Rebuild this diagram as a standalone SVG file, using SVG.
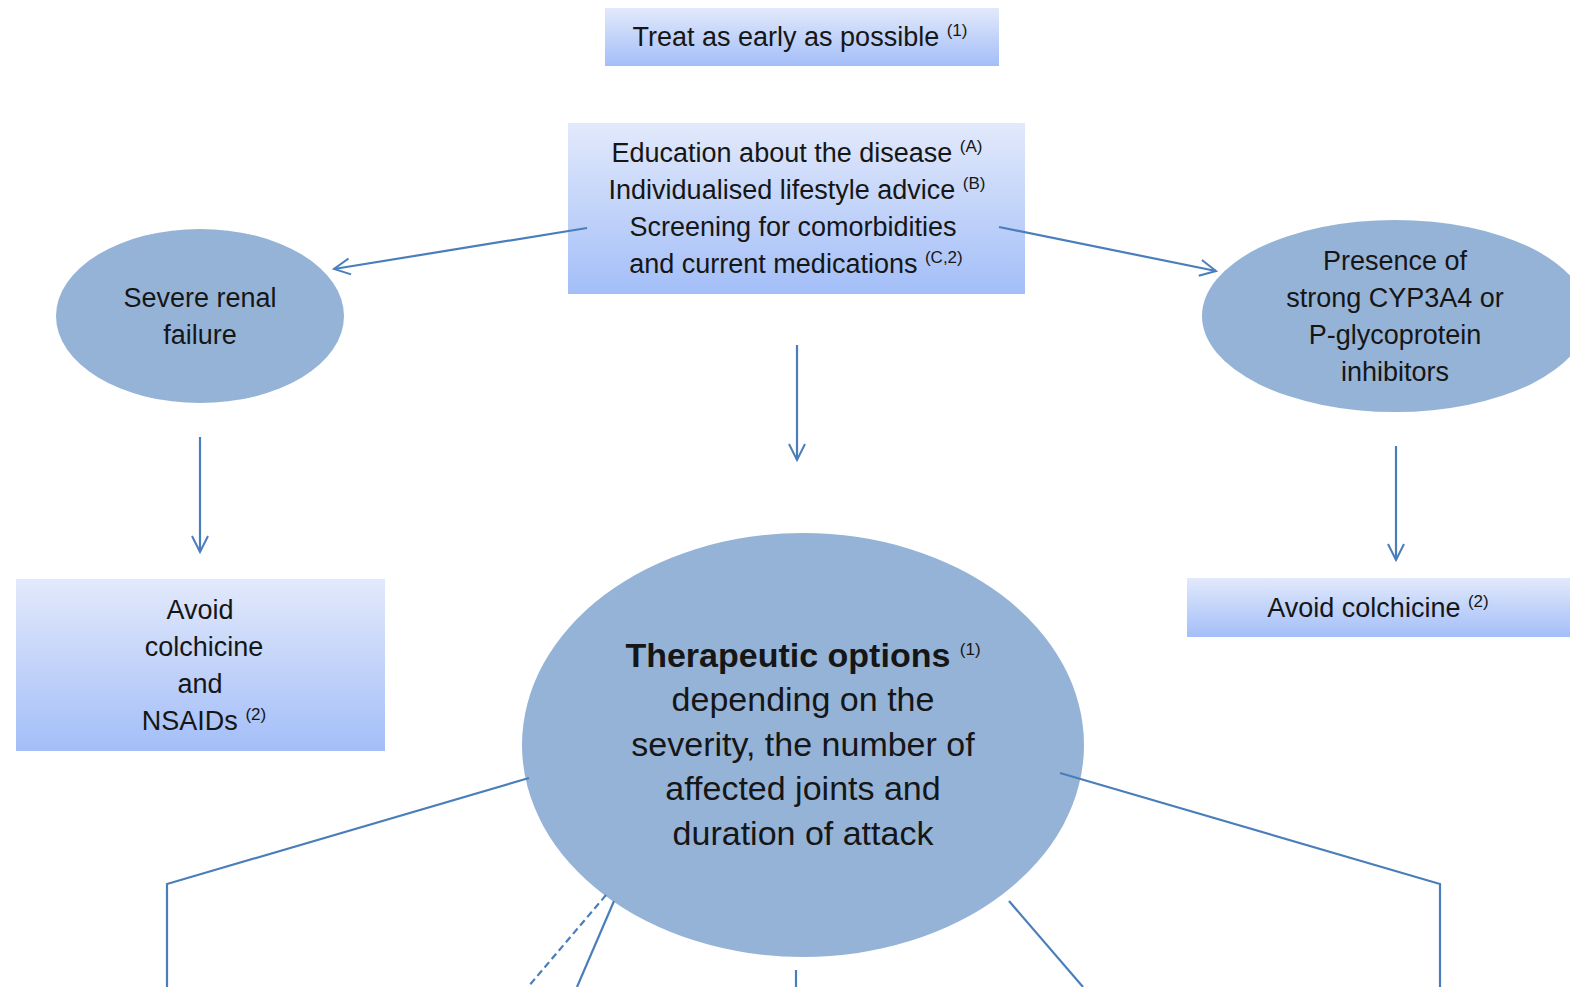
<svg xmlns="http://www.w3.org/2000/svg" width="1570" height="987" viewBox="0 0 1570 987">
<defs>
<linearGradient id="g" x1="0" y1="0" x2="0" y2="1">
<stop offset="0" stop-color="#e2e9fb"/>
<stop offset="1" stop-color="#a3bef8"/>
</linearGradient>
<marker id="ah" viewBox="0 0 20 20" refX="18" refY="10" markerWidth="20" markerHeight="20" markerUnits="userSpaceOnUse" orient="auto">
<path d="M2,2 L18,10 L2,18" fill="none" stroke="#4a7ebb" stroke-width="2"/>
</marker>
</defs>
<style>
.box{fill:url(#g)}
.ell{fill:#95b3d7}
.t{font-family:"Liberation Sans",Arial,sans-serif;font-size:27px;fill:#161616;text-anchor:middle}
.big{font-size:34px}
.s{font-size:17px}
.c{stroke:#4a7ebb;stroke-width:2.2;fill:none}
.d{stroke-dasharray:7,4}
</style>
<rect width="1570" height="987" fill="#ffffff"/>
<g id="n-early">
<rect class="box" x="605" y="8" width="394" height="58"/>
<text class="t" x="800" y="46">Treat as early as possible <tspan class="s" dy="-10">(1)</tspan></text>
</g>
<g id="n-education">
<rect class="box" x="568" y="123" width="457" height="171"/>
<text class="t" x="797" y="162">Education about the disease <tspan class="s" dy="-10">(A)</tspan></text>
<text class="t" x="797" y="199">Individualised lifestyle advice <tspan class="s" dy="-10">(B)</tspan></text>
<text class="t" x="793" y="236">Screening for comorbidities</text>
<text class="t" x="796" y="273">and current medications <tspan class="s" dy="-10">(C,2)</tspan></text>
</g>
<g id="n-renal">
<ellipse class="ell" cx="200" cy="316" rx="144" ry="87"/>
<text class="t" x="200" y="307">Severe renal</text>
<text class="t" x="200" y="344">failure</text>
</g>
<g id="n-cyp">
<ellipse class="ell" cx="1395" cy="316" rx="193" ry="96"/>
<text class="t" x="1395" y="270">Presence of</text>
<text class="t" x="1395" y="307">strong CYP3A4 or</text>
<text class="t" x="1395" y="344">P-glycoprotein</text>
<text class="t" x="1395" y="381">inhibitors</text>
</g>
<g id="n-avoid-nsaids">
<rect class="box" x="16" y="579" width="369" height="172"/>
<text class="t" x="200" y="619">Avoid</text>
<text class="t" x="204" y="656">colchicine</text>
<text class="t" x="200" y="693">and</text>
<text class="t" x="204" y="730">NSAIDs <tspan class="s" dy="-10">(2)</tspan></text>
</g>
<g id="n-avoid-colch">
<rect class="box" x="1187" y="578" width="383" height="59"/>
<text class="t" x="1378" y="617">Avoid colchicine <tspan class="s" dy="-10">(2)</tspan></text>
</g>
<g id="n-therapeutic">
<ellipse class="ell" cx="803" cy="745" rx="281" ry="212"/>
<text class="t big" x="803" y="667"><tspan font-weight="bold">Therapeutic options</tspan> <tspan class="s" font-size="21" dy="-12">(1)</tspan></text>
<text class="t big" x="803" y="711">depending on the</text>
<text class="t big" x="803" y="756">severity, the number of</text>
<text class="t big" x="803" y="800">affected joints and</text>
<text class="t big" x="803" y="845">duration of attack</text>
</g>
<g id="connectors">
<line class="c" x1="587" y1="228" x2="334" y2="269" marker-end="url(#ah)"/>
<line class="c" x1="999" y1="227" x2="1216" y2="271" marker-end="url(#ah)"/>
<line class="c" x1="797" y1="345" x2="797" y2="460" marker-end="url(#ah)"/>
<line class="c" x1="200" y1="437" x2="200" y2="552" marker-end="url(#ah)"/>
<line class="c" x1="1396" y1="446" x2="1396" y2="560" marker-end="url(#ah)"/>
<polyline class="c" points="529,778 167,884 167,987"/>
<polyline class="c" points="1060,773 1440,884 1440,987"/>
<line class="c d" x1="606" y1="895" x2="528" y2="987"/>
<line class="c" x1="614" y1="901" x2="577" y2="987"/>
<line class="c" x1="796" y1="970" x2="796" y2="987"/>
<line class="c" x1="1009" y1="901" x2="1083" y2="987"/>
</g>
</svg>
